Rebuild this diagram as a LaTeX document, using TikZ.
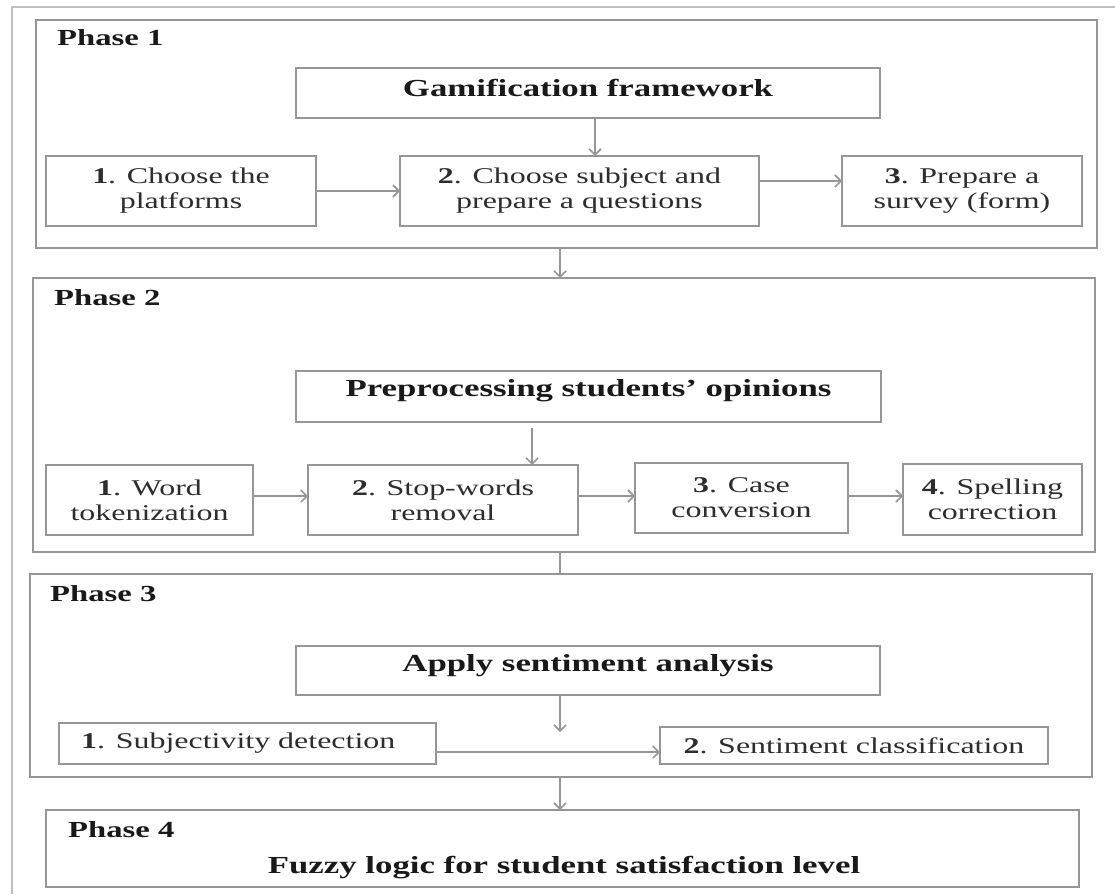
\documentclass[tikz,border=0pt]{standalone}
\usepackage{fontspec}
\setmainfont{Liberation Serif}[FakeStretch=1.42]
\usetikzlibrary{arrows.meta}
\definecolor{linegray}{RGB}{150,150,150}
\definecolor{framegray}{RGB}{190,190,190}
\definecolor{txt}{RGB}{45,45,45}
\begin{document}
\begin{tikzpicture}[x=1pt,y=-1pt,
  box/.style={draw=linegray,line width=1.8pt,inner sep=0pt,outer sep=0pt,
    text=txt,align=center,font=\fontsize{22.5}{25}\selectfont},
  phase/.style={box},
  plabel/.style={anchor=base west,inner sep=0pt,text=black!90,
    font=\fontsize{23}{26}\selectfont\bfseries},
  htext/.style={inner sep=0pt,text=black!90,
    font=\fontsize{24.5}{28}\selectfont\bfseries},
  stext/.style={inner sep=0pt,text=txt,font=\fontsize{22.5}{25}\selectfont},
  arr/.style={draw=linegray,line width=1.6pt,
    -{Straight Barb[length=6pt,width=12pt,line width=1.6pt]}},
  ln/.style={draw=linegray,line width=1.6pt}
]
\fill[white] (0,0) rectangle (1115,894);
\useasboundingbox (0,0) rectangle (1115,894);
% outer (cropped) frame
\draw[framegray,line width=2pt] (12,894) -- (12,7) -- (1115,7);

% helper coordinates
\coordinate (cx) at (560,0);
\coordinate (c1) at (595,0);
\coordinate (c2) at (532,0);
\coordinate (r2) at (0,496);
\coordinate (r3) at (0,752);

% ---------------- Phase 1
\node[phase,minimum width=1061pt,minimum height=228pt] (P1) at (566.5,134) {};
\node[plabel] (L1) at (57,45.5) {Phase 1};
\node[box,minimum width=584pt,minimum height=50pt] (gam) at (588,93) {};
\node[htext] (gamt) at (588,88) {Gamification framework};
\node[box,minimum width=270pt,minimum height=70pt] (a1) at (181,191) {\textbf{1}. Choose the\\platforms};
\node[box,minimum width=359pt,minimum height=70pt] (a2) at (579.5,191) {\textbf{2}. Choose subject and\\prepare a questions};
\node[box,minimum width=240pt,minimum height=70pt] (a3) at (962,191) {\textbf{3}. Prepare a\\survey (form)};
\draw[arr] (gam.south -| c1) -- (a2.north -| c1);
\draw[arr] (a1.east) -- (a2.west);
\draw[arr] ([yshift=10pt]a2.east) -- ([yshift=10pt]a3.west);

% ---------------- Phase 2
\node[phase,minimum width=1062pt,minimum height=274pt] (P2) at (564,415) {};
\node[plabel] (L2) at (54,305.5) {Phase 2};
\node[box,minimum width=585pt,minimum height=51pt] (pre) at (588.5,396.5) {};
\node[htext] (pret) at (588.5,391) {Preprocessing students' opinions};
\node[box,minimum width=207pt,minimum height=70pt] (b1) at (149.5,500) {\textbf{1}. Word\\tokenization};
\node[box,minimum width=270pt,minimum height=70pt] (b2) at (443,500) {\textbf{2}. Stop-words\\removal};
\node[box,minimum width=213pt,minimum height=70pt] (b3) at (741.5,498) {\textbf{3}. Case\\conversion};
\node[box,minimum width=179pt,minimum height=71pt] (b4) at (992.5,499.5) {\textbf{4}. Spelling\\correction};
\draw[arr] ([yshift=-6pt]pre.south -| c2) -- (b2.north -| c2);
\draw[arr] (b1.east |- r2) -- (b2.west |- r2);
\draw[arr] (b2.east |- r2) -- (b3.west |- r2);
\draw[arr] (b3.east |- r2) -- (b4.west |- r2);

% ---------------- Phase 3
\node[phase,minimum width=1062pt,minimum height=203pt] (P3) at (561,675.5) {};
\node[plabel] (L3) at (50,601.5) {Phase 3};
\node[box,minimum width=584pt,minimum height=49pt] (app) at (588,670.5) {};
\node[htext] (appt) at (588,666) {Apply sentiment analysis};
\node[box,minimum width=377pt,minimum height=41pt] (s1) at (247.5,743.5) {};
\node[stext,anchor=west] (s1t) at ([xshift=22pt]s1.west) {\textbf{1}. Subjectivity detection};
\node[box,minimum width=388pt,minimum height=37pt] (s2) at (854,745.5) {\textbf{2}. Sentiment classification};
\coordinate (e3) at (560,732);
\draw[arr] (app.south -| cx) -- (e3);
\draw[arr] (s1.east |- r3) -- (s2.west |- r3);

% ---------------- Phase 4
\node[phase,minimum width=1033pt,minimum height=77pt] (P4) at (562.5,848.5) {};
\node[plabel] (L4) at (68,837.5) {Phase 4};
\node[htext] (fuz) at (564,868) {Fuzzy logic for student satisfaction level};

% ---------------- phase connectors
\draw[arr] (P1.south -| cx) -- (P2.north -| cx);
\draw[ln] (P2.south -| cx) -- (P3.north -| cx);
\draw[arr] (P3.south -| cx) -- (P4.north -| cx);
\end{tikzpicture}
\end{document}
